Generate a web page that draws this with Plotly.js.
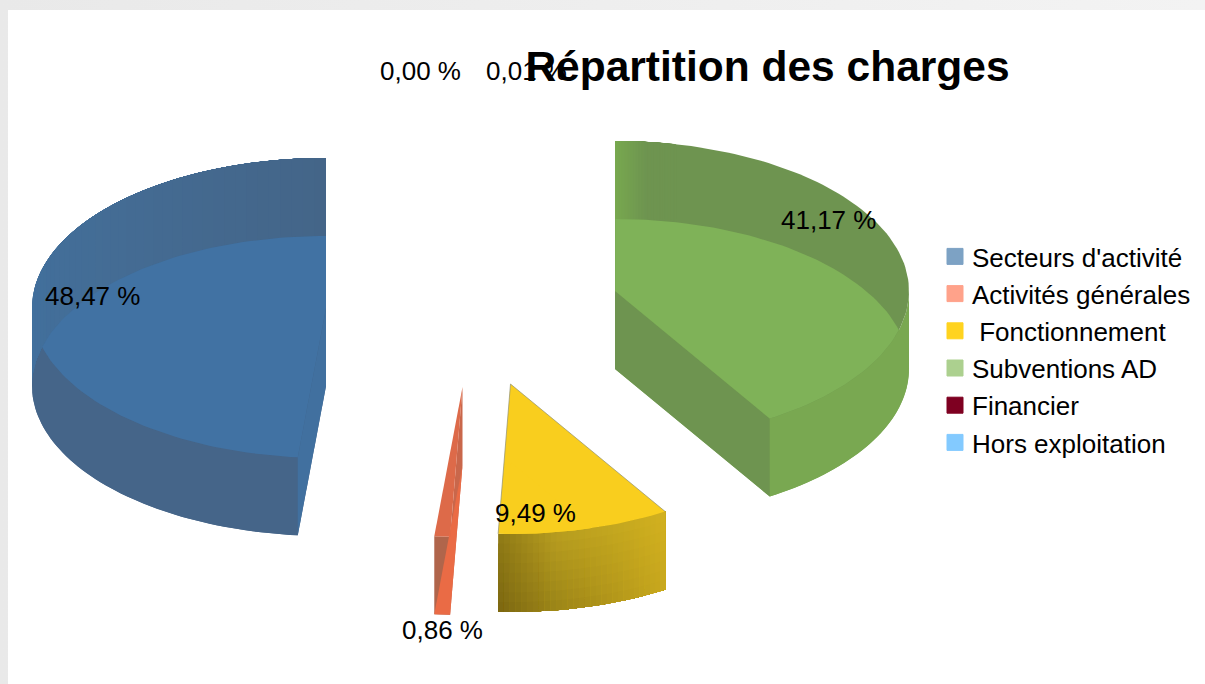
<!DOCTYPE html>
<html>
<head>
<meta charset="utf-8">
<script src="https://cdn.plot.ly/plotly-3.0.1.min.js"></script>
<style>html,body{margin:0;padding:0;background:linear-gradient(90deg,#e9e9e9,#f3f3f3);overflow:hidden}#chart{width:1205px;height:684px}</style>
</head>
<body>
<div id="chart"></div>
<script>
// ---- data ----
const categories = ["Secteurs d'activité", "Activités générales", "\u00A0Fonctionnement", "Subventions AD", "Financier", "Hors exploitation"];
const values = [48.47, 0.86, 9.49, 41.17, 0.00, 0.01];
const legendColors = ["#7da2c4", "#ffa28a", "#ffd31f", "#acd08f", "#7e0021", "#83caff"];

// ---- drawing geometry (projection of the exploded 3D pie) ----
const RX = 294, RY = 150, DEPTH = 78;
const centers = [[326, 308], [462.5, 387], [510.5, 384], [615, 291], null, null];
const labelAnchors = [[45, 296], [402, 630], [495, 513], [781, 220], [380, 71], [486, 71]];
const styles = [
  {wall: "#456589", bottom: "#456589", top: "#456589", cut: "#41709f", cutAt: "end", lens: "#4172a3", band: ["#41709e", "#446c94", "#446588"], bandFrom: 180, bandTo: 90},
  {wall: "#b0654b", bottom: "#ea6b45", top: "#dd6a49", cut: "#c9674b", cutAt: "end", cutUnder: true, lens: "#e96b45"},
  {wallGrid: true, top: "#f9ce1e", lens: "#f9ce1e", edge: "#8f8f70"},
  {wall: "#79a851", bottom: "#79a851", top: "#6e9450", cut: "#6e9450", cutAt: "start", lens: "#7fb258", band: ["#6e9450", "#6e9450", "#78a94f"], bandFrom: 438, bandTo: 450},
  null, null
];

const traces = [];
function rad(d) { return d * Math.PI / 180; }
function rim(c, deg, dz) { return [c[0] + RX * Math.cos(rad(deg)), c[1] + dz - RY * Math.sin(rad(deg))]; }
function arc(c, a, b, dz) {
  const out = [], n = Math.max(2, Math.ceil(Math.abs(b - a) / 1.5));
  for (let i = 0; i <= n; i++) out.push(rim(c, a + (b - a) * i / n, dz));
  return out;
}
function wedge(c, a, b, dz) { return [[c[0], c[1] + dz]].concat(arc(c, a, b, dz)); }
function poly(pts, color) {
  const p = pts.concat([pts[0]]);
  traces.push({x: p.map(q => q[0]), y: p.map(q => q[1]), mode: "lines", fill: "toself", fillcolor: color,
    line: {color: color, width: 0}, hoverinfo: "skip", showlegend: false});
}
function hex(c) { return [1, 3, 5].map(i => parseInt(c.substr(i, 2), 16)); }
function mix(a, b, t) {
  const A = hex(a), B = hex(b), C = A.map((v, i) => Math.round(v + (B[i] - v) * t));
  return "#" + C.map(v => v.toString(16).padStart(2, "0")).join("");
}
function ramp(list, t) {
  const s = Math.min(list.length - 2, Math.floor(t * (list.length - 1)));
  return mix(list[s], list[s + 1], t * (list.length - 1) - s);
}
// Sutherland-Hodgman clipping of a polygon by a convex polygon
function clip(subject, clipper) {
  let area = 0;
  clipper.forEach((p, i) => { const q = clipper[(i + 1) % clipper.length]; area += p[0] * q[1] - q[0] * p[1]; });
  const sgn = area > 0 ? 1 : -1;
  let out = subject;
  clipper.forEach((p, i) => {
    const q = clipper[(i + 1) % clipper.length], input = out;
    const side = r => sgn * ((q[0] - p[0]) * (r[1] - p[1]) - (q[1] - p[1]) * (r[0] - p[0]));
    out = [];
    input.forEach((cur, j) => {
      const prev = input[(j + input.length - 1) % input.length], sc = side(cur), sp = side(prev);
      if ((sc >= 0) !== (sp >= 0)) {
        const t = sp / (sp - sc);
        out.push([prev[0] + (cur[0] - prev[0]) * t, prev[1] + (cur[1] - prev[1]) * t]);
      }
      if (sc >= 0) out.push(cur);
    });
  });
  return out;
}

const total = values.reduce((a, b) => a + b, 0);
let start = 90;
values.forEach((v, i) => {
  const sweep = v / total * 360, a = start, b = start + sweep;
  start = b;
  const c = centers[i], s = styles[i];
  if (!c || !s) return;
  const top = wedge(c, a, b, 0), bot = wedge(c, a, b, DEPTH);
  const cutQuad = () => { const e = s.cutAt === "start" ? a : b;
    return [[c[0], c[1]], rim(c, e, 0), rim(c, e, DEPTH), [c[0], c[1] + DEPTH]]; };
  // outer wall, painted from its far corner so that neighbouring cells leave no seams
  if (s.wallGrid) {
    const topRamp = ["#8f7a16", "#b89d1f", "#c4a81f", "#d3b11f"], botRamp = ["#7b6711", "#9b8418", "#b2961a", "#c8a81e"];
    const nu = 30, nv = 8;
    for (let u = 0; u < nu; u++) for (let w = 0; w < nv; w++) {
      const a1 = a + sweep * u / nu, z1 = DEPTH * w / nv;
      const col = mix(ramp(topRamp, (u + .5) / nu), ramp(botRamp, (u + .5) / nu), (w + .5) / nv);
      poly(arc(c, a1, b, z1).concat(arc(c, b, a1, DEPTH)), col);
    }
  } else {
    const wa = Math.max(a, 180), wb = Math.min(b, 360);
    if (wb > wa) poly(arc(c, wa, wb, 0).concat(arc(c, wb, wa, DEPTH)), s.wall);
  }
  if (s.cut && s.cutUnder) poly(cutQuad(), s.cut);
  if (s.bottom) poly(bot, s.bottom);
  poly(top, s.top);
  // shading of the top-only band near the first / last edge
  if (s.band) {
    const n = 40, span = s.bandTo - s.bandFrom;
    for (let k = 0; k < n; k++) {
      const a1 = s.bandFrom + span * k / n;
      poly(arc(c, a1, s.bandTo, 0).concat(arc(c, s.bandTo, a1, DEPTH)), ramp(s.band, (k + .5) / n));
    }
  }
  if (s.cut && !s.cutUnder) poly(cutQuad(), s.cut);
  poly(clip(top, bot), s.lens);
  if (s.edge) {
    const e = [rim(c, a, 0), [c[0], c[1]], rim(c, b, 0)];
    traces.push({x: e.map(q => q[0]), y: e.map(q => q[1]), mode: "lines", line: {color: s.edge, width: 0.7}, hoverinfo: "skip", showlegend: false});
  }
});

// legend entries
categories.forEach((name, i) => {
  traces.push({x: [null], y: [null], mode: "markers", name: name, legendgroup: "g" + i,
    marker: {symbol: "square", size: 16, color: legendColors[i], line: {width: 1, color: legendColors[i]}}, hoverinfo: "skip"});
});

const labelFont = {family: "Liberation Sans, Arial, sans-serif", size: 26, color: "#000000"};
const annotations = values.map((v, i) => ({
  x: labelAnchors[i][0], y: labelAnchors[i][1], xref: "x", yref: "y", xanchor: "left", yanchor: "middle",
  text: v.toFixed(2).replace(".", ",") + " %", showarrow: false, font: labelFont, xshift: -2
}));

const layout = {
  width: 1205, height: 684,
  margin: {l: 8, t: 10, r: 0, b: 0, pad: 0},
  paper_bgcolor: "rgba(0,0,0,0)", plot_bgcolor: "#ffffff",
  title: {text: "Répartition des charges", font: {family: "Liberation Sans, Arial, sans-serif", size: 42.5, color: "#000000", weight: "bold"},
    x: 767.5 / 1205, xref: "container", xanchor: "center", y: 1 - 66 / 684, yref: "container", yanchor: "middle"},
  xaxis: {range: [8, 1205], visible: false, fixedrange: true},
  yaxis: {range: [684, 10], visible: false, fixedrange: true},
  showlegend: true,
  legend: {x: (932 - 8) / 1197, y: (684 - 233) / 674, xanchor: "left", yanchor: "top", bgcolor: "rgba(0,0,0,0)",
    font: {family: "Liberation Sans, Arial, sans-serif", size: 26, color: "#000000"},
    tracegroupgap: 0.4, itemsizing: "trace", itemclick: false, itemdoubleclick: false},
  annotations: annotations
};
Plotly.newPlot("chart", traces, layout, {displayModeBar: false, staticPlot: true}).then(gd => {
  // legend swatches sit a little closer to their text than Plotly's default
  gd.querySelectorAll(".legendsymbols").forEach(el => {
    el.setAttribute("transform", (el.getAttribute("transform") || "") + " translate(3,0)");
  });
});
</script>
</body>
</html>
